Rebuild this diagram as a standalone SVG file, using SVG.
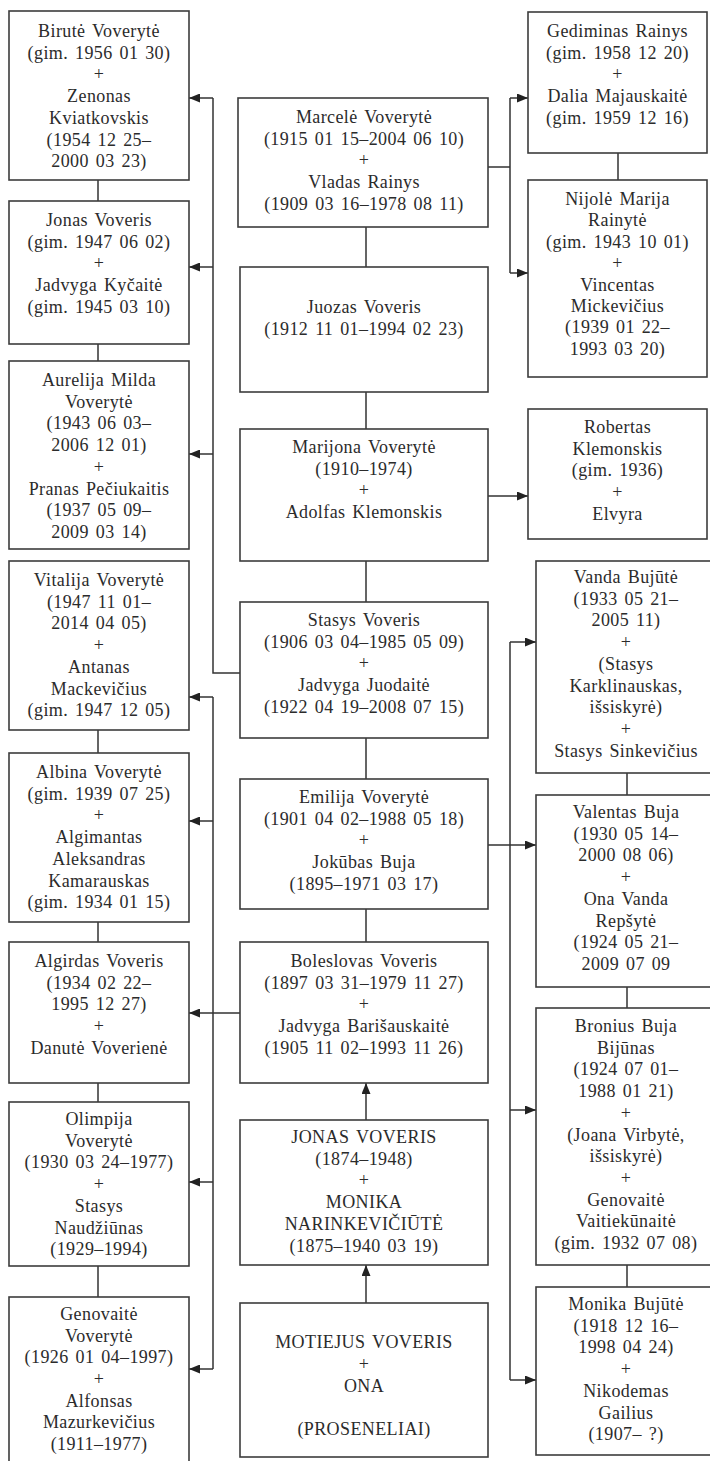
<svg xmlns="http://www.w3.org/2000/svg" width="710" height="1461" viewBox="0 0 710 1461">
<style>
.box{fill:#fff;stroke:#3c3c3c;stroke-width:1.6}
.c{fill:none;stroke:#333;stroke-width:1.5}
.a{fill:none;stroke:#333;stroke-width:1.5;marker-end:url(#ah)}
text{font-family:"Liberation Serif","Times New Roman",serif;font-size:18px;fill:#2b2b2b;text-anchor:middle;word-spacing:2px;letter-spacing:0.4px}
</style>
<defs>
<marker id="ah" markerUnits="userSpaceOnUse" markerWidth="11" markerHeight="9" refX="11" refY="4.5" orient="auto">
<path d="M0,0 L11,4.5 L0,9 z" fill="#222"/>
</marker>
</defs>
<rect width="710" height="1461" fill="#fff"/>
<g id="connectors">
<path class="c" d="M98,180V201M98,344V361M98,730V753M98,922V942M98,1083V1102M98,1266V1297"/>
<path class="c" d="M366,227V267M366,392V429M366,561V602M366,738V779M366,909V942"/>
<path class="c" d="M618,153V180M627,773V795M627,987V1008M627,1265V1287"/>
<path class="a" d="M366,1120V1083"/>
<path class="a" d="M366,1303V1265"/>
<path class="c" d="M240,673H213V98"/>
<path class="a" d="M213,98H189"/>
<path class="a" d="M213,267H189"/>
<path class="a" d="M213,454H189"/>
<path class="c" d="M240,1013H213M213,697V1369"/>
<path class="a" d="M213,697H189"/>
<path class="a" d="M213,821H189"/>
<path class="a" d="M213,1013H189"/>
<path class="a" d="M213,1182H189"/>
<path class="a" d="M213,1369H189"/>
<path class="c" d="M488,167H510M510,98V273"/>
<path class="a" d="M510,98H528"/>
<path class="a" d="M510,273H528"/>
<path class="a" d="M488,496H528"/>
<path class="c" d="M488,845H510M510,642V1380"/>
<path class="a" d="M510,642H536"/>
<path class="a" d="M510,845H536"/>
<path class="a" d="M510,1110H536"/>
<path class="a" d="M510,1380H536"/>
</g>
<g id="n_birute"><rect class="box" x="9" y="11" width="180" height="169"/>
<text><tspan x="99" y="37">Birutė Voverytė</tspan><tspan x="99" y="58.7">(gim. 1956 01 30)</tspan><tspan x="99" y="80.4">+</tspan><tspan x="99" y="102.1">Zenonas</tspan><tspan x="99" y="123.8">Kviatkovskis</tspan><tspan x="99" y="145.5">(1954 12 25–</tspan><tspan x="99" y="167.2">2000 03 23)</tspan></text></g>
<g id="n_jonas_l"><rect class="box" x="9" y="201" width="180" height="143"/>
<text><tspan x="99" y="226">Jonas Voveris</tspan><tspan x="99" y="247.7">(gim. 1947 06 02)</tspan><tspan x="99" y="269.4">+</tspan><tspan x="99" y="291.1">Jadvyga Kyčaitė</tspan><tspan x="99" y="312.8">(gim. 1945 03 10)</tspan></text></g>
<g id="n_aurelija"><rect class="box" x="9" y="361" width="180" height="188"/>
<text><tspan x="99" y="386">Aurelija Milda</tspan><tspan x="99" y="407.7">Voverytė</tspan><tspan x="99" y="429.4">(1943 06 03–</tspan><tspan x="99" y="451.1">2006 12 01)</tspan><tspan x="99" y="472.8">+</tspan><tspan x="99" y="494.5">Pranas Pečiukaitis</tspan><tspan x="99" y="516.2">(1937 05 09–</tspan><tspan x="99" y="537.9">2009 03 14)</tspan></text></g>
<g id="n_vitalija"><rect class="box" x="9" y="561" width="180" height="169"/>
<text><tspan x="99" y="586">Vitalija Voverytė</tspan><tspan x="99" y="607.7">(1947 11 01–</tspan><tspan x="99" y="629.4">2014 04 05)</tspan><tspan x="99" y="651.1">+</tspan><tspan x="99" y="672.8">Antanas</tspan><tspan x="99" y="694.5">Mackevičius</tspan><tspan x="99" y="716.2">(gim. 1947 12 05)</tspan></text></g>
<g id="n_albina"><rect class="box" x="9" y="753" width="180" height="169"/>
<text><tspan x="99" y="778">Albina Voverytė</tspan><tspan x="99" y="799.7">(gim. 1939 07 25)</tspan><tspan x="99" y="821.4">+</tspan><tspan x="99" y="843.1">Algimantas</tspan><tspan x="99" y="864.8">Aleksandras</tspan><tspan x="99" y="886.5">Kamarauskas</tspan><tspan x="99" y="908.2">(gim. 1934 01 15)</tspan></text></g>
<g id="n_algirdas"><rect class="box" x="9" y="942" width="180" height="141"/>
<text><tspan x="99" y="967">Algirdas Voveris</tspan><tspan x="99" y="988.7">(1934 02 22–</tspan><tspan x="99" y="1010.4">1995 12 27)</tspan><tspan x="99" y="1032.1">+</tspan><tspan x="99" y="1053.8">Danutė Voverienė</tspan></text></g>
<g id="n_olimpija"><rect class="box" x="9" y="1102" width="180" height="164"/>
<text><tspan x="99" y="1125">Olimpija</tspan><tspan x="99" y="1146.7">Voverytė</tspan><tspan x="99" y="1168.4">(1930 03 24–1977)</tspan><tspan x="99" y="1190.1">+</tspan><tspan x="99" y="1211.8">Stasys</tspan><tspan x="99" y="1233.5">Naudžiūnas</tspan><tspan x="99" y="1255.2">(1929–1994)</tspan></text></g>
<g id="n_genovaite"><rect class="box" x="9" y="1297" width="180" height="172"/>
<text><tspan x="99" y="1320">Genovaitė</tspan><tspan x="99" y="1341.6">Voverytė</tspan><tspan x="99" y="1363.3">(1926 01 04–1997)</tspan><tspan x="99" y="1385">+</tspan><tspan x="99" y="1406.6">Alfonsas</tspan><tspan x="99" y="1428.3">Mazurkevičius</tspan><tspan x="99" y="1450">(1911–1977)</tspan></text></g>
<g id="n_marcele"><rect class="box" x="238" y="98" width="250" height="129"/>
<text><tspan x="364" y="123">Marcelė Voverytė</tspan><tspan x="364" y="144.7">(1915 01 15–2004 06 10)</tspan><tspan x="364" y="166.4">+</tspan><tspan x="364" y="188.1">Vladas Rainys</tspan><tspan x="364" y="209.8">(1909 03 16–1978 08 11)</tspan></text></g>
<g id="n_juozas"><rect class="box" x="240" y="267" width="248" height="125"/>
<text><tspan x="364" y="313">Juozas Voveris</tspan><tspan x="364" y="335">(1912 11 01–1994 02 23)</tspan></text></g>
<g id="n_marijona"><rect class="box" x="240" y="429" width="248" height="132"/>
<text><tspan x="364" y="453">Marijona Voverytė</tspan><tspan x="364" y="474.7">(1910–1974)</tspan><tspan x="364" y="496.4">+</tspan><tspan x="364" y="518.1">Adolfas Klemonskis</tspan></text></g>
<g id="n_stasys"><rect class="box" x="240" y="602" width="248" height="136"/>
<text><tspan x="364" y="626">Stasys Voveris</tspan><tspan x="364" y="647.7">(1906 03 04–1985 05 09)</tspan><tspan x="364" y="669.4">+</tspan><tspan x="364" y="691.1">Jadvyga Juodaitė</tspan><tspan x="364" y="712.8">(1922 04 19–2008 07 15)</tspan></text></g>
<g id="n_emilija"><rect class="box" x="240" y="779" width="248" height="130"/>
<text><tspan x="364" y="803">Emilija Voverytė</tspan><tspan x="364" y="824.7">(1901 04 02–1988 05 18)</tspan><tspan x="364" y="846.4">+</tspan><tspan x="364" y="868.1">Jokūbas Buja</tspan><tspan x="364" y="889.8">(1895–1971 03 17)</tspan></text></g>
<g id="n_boleslovas"><rect class="box" x="240" y="942" width="248" height="141"/>
<text><tspan x="364" y="967">Boleslovas Voveris</tspan><tspan x="364" y="988.7">(1897 03 31–1979 11 27)</tspan><tspan x="364" y="1010.4">+</tspan><tspan x="364" y="1032.1">Jadvyga Barišauskaitė</tspan><tspan x="364" y="1053.8">(1905 11 02–1993 11 26)</tspan></text></g>
<g id="n_jonas_c"><rect class="box" x="240" y="1120" width="248" height="145"/>
<text><tspan x="364" y="1143">JONAS VOVERIS</tspan><tspan x="364" y="1164.7">(1874–1948)</tspan><tspan x="364" y="1186.4">+</tspan><tspan x="364" y="1208.1">MONIKA</tspan><tspan x="364" y="1229.8">NARINKEVIČIŪTĖ</tspan><tspan x="364" y="1251.5">(1875–1940 03 19)</tspan></text></g>
<g id="n_motiejus"><rect class="box" x="240" y="1303" width="248" height="154"/>
<text><tspan x="364" y="1348">MOTIEJUS VOVERIS</tspan><tspan x="364" y="1370">+</tspan><tspan x="364" y="1392">ONA</tspan><tspan x="364" y="1435">(PROSENELIAI)</tspan></text></g>
<g id="n_gediminas"><rect class="box" x="528" y="12" width="179" height="141"/>
<text><tspan x="617.5" y="37">Gediminas Rainys</tspan><tspan x="617.5" y="58.7">(gim. 1958 12 20)</tspan><tspan x="617.5" y="80.4">+</tspan><tspan x="617.5" y="102.1">Dalia Majauskaitė</tspan><tspan x="617.5" y="123.8">(gim. 1959 12 16)</tspan></text></g>
<g id="n_nijole"><rect class="box" x="528" y="180" width="179" height="197"/>
<text><tspan x="617.5" y="205">Nijolė Marija</tspan><tspan x="617.5" y="226.4">Rainytė</tspan><tspan x="617.5" y="247.8">(gim. 1943 10 01)</tspan><tspan x="617.5" y="269.2">+</tspan><tspan x="617.5" y="290.6">Vincentas</tspan><tspan x="617.5" y="312">Mickevičius</tspan><tspan x="617.5" y="333.4">(1939 01 22–</tspan><tspan x="617.5" y="354.8">1993 03 20)</tspan></text></g>
<g id="n_robertas"><rect class="box" x="528" y="409" width="179" height="130"/>
<text><tspan x="617.5" y="433">Robertas</tspan><tspan x="617.5" y="454.7">Klemonskis</tspan><tspan x="617.5" y="476.4">(gim. 1936)</tspan><tspan x="617.5" y="498.1">+</tspan><tspan x="617.5" y="519.8">Elvyra</tspan></text></g>
<g id="n_vanda"><rect class="box" x="536" y="561" width="180" height="212"/>
<text><tspan x="626" y="583">Vanda Bujūtė</tspan><tspan x="626" y="604.7">(1933 05 21–</tspan><tspan x="626" y="626.4">2005 11)</tspan><tspan x="626" y="648.1">+</tspan><tspan x="626" y="669.8">(Stasys</tspan><tspan x="626" y="691.5">Karklinauskas,</tspan><tspan x="626" y="713.2">išsiskyrė)</tspan><tspan x="626" y="734.9">+</tspan><tspan x="626" y="756.6">Stasys Sinkevičius</tspan></text></g>
<g id="n_valentas"><rect class="box" x="536" y="795" width="180" height="192"/>
<text><tspan x="626" y="818">Valentas Buja</tspan><tspan x="626" y="839.7">(1930 05 14–</tspan><tspan x="626" y="861.4">2000 08 06)</tspan><tspan x="626" y="883.1">+</tspan><tspan x="626" y="904.8">Ona Vanda</tspan><tspan x="626" y="926.5">Repšytė</tspan><tspan x="626" y="948.2">(1924 05 21–</tspan><tspan x="626" y="969.9">2009 07 09</tspan></text></g>
<g id="n_bronius"><rect class="box" x="536" y="1008" width="180" height="257"/>
<text><tspan x="626" y="1032">Bronius Buja</tspan><tspan x="626" y="1053.7">Bijūnas</tspan><tspan x="626" y="1075.4">(1924 07 01–</tspan><tspan x="626" y="1097.1">1988 01 21)</tspan><tspan x="626" y="1118.8">+</tspan><tspan x="626" y="1140.5">(Joana Virbytė,</tspan><tspan x="626" y="1162.2">išsiskyrė)</tspan><tspan x="626" y="1183.9">+</tspan><tspan x="626" y="1205.6">Genovaitė</tspan><tspan x="626" y="1227.3">Vaitiekūnaitė</tspan><tspan x="626" y="1249">(gim. 1932 07 08)</tspan></text></g>
<g id="n_monika"><rect class="box" x="536" y="1287" width="180" height="168"/>
<text><tspan x="626" y="1310">Monika Bujūtė</tspan><tspan x="626" y="1331.7">(1918 12 16–</tspan><tspan x="626" y="1353.4">1998 04 24)</tspan><tspan x="626" y="1375.1">+</tspan><tspan x="626" y="1396.8">Nikodemas</tspan><tspan x="626" y="1418.5">Gailius</tspan><tspan x="626" y="1440.2">(1907– ?)</tspan></text></g>
</svg>
